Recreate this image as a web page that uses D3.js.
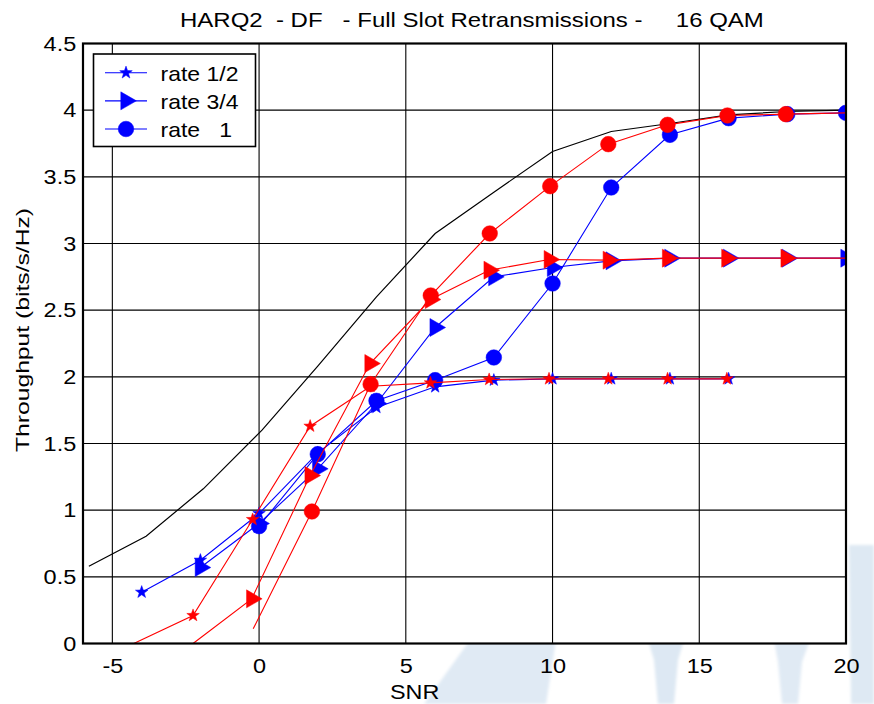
<!DOCTYPE html>
<html>
<head>
<meta charset="utf-8">
<script src="https://cdn.jsdelivr.net/npm/d3@7"></script>
<style>
  html, body { margin: 0; padding: 0; background: #ffffff; }
  svg text { font-family: "Liberation Sans", Arial, Helvetica, sans-serif; white-space: pre; fill: #000; }
</style>
</head>
<body>
<svg id="chart" width="874" height="704"></svg>
<script>
// ---- text ----
const titleText = "HARQ2  - DF   - Full Slot Retransmissions -     16 QAM";
const xLabel = "SNR";
const yLabel = "Throughput (bits/s/Hz)";
const legendLabels = ["rate 1/2", "rate 3/4", "rate   1"];

// ---- axes ----
const xDomain = [-6, 20];
const yDomain = [0, 4.5];
const xTicks = [-5, 0, 5, 10, 15, 20];
const yTicks = [0, 0.5, 1, 1.5, 2, 2.5, 3, 3.5, 4, 4.5];

// ---- capacity bound (black) ----
const boundSNR  = [-5.8, -3.85, -1.9, 0.1, 2, 4, 6, 8, 10, 12, 14, 16, 18, 20];
const boundTput = [0.58, 0.805, 1.16, 1.6, 2.08, 2.6, 3.075, 3.385, 3.69, 3.84, 3.9, 3.965, 3.99, 4.0];

// ---- blue curves ----
const blueHalfSNR   = [-4, -2, 0, 2, 4, 6, 8, 10, 12, 14, 16];
const blueHalfTput  = [0.385, 0.625, 0.975, 1.43, 1.77, 1.925, 1.975, 1.985, 1.985, 1.985, 1.985];
const blueThreeSNR  = [-2, 0, 2, 4, 6, 8, 10, 12, 14, 16, 18, 20];
const blueThreeTput = [0.57, 0.9, 1.31, 1.8, 2.37, 2.75, 2.82, 2.87, 2.89, 2.89, 2.89, 2.89];
const blueOneSNR    = [0, 2, 4, 6, 8, 10, 12, 14, 16, 18, 20];
const blueOneTput   = [0.88, 1.42, 1.82, 1.975, 2.145, 2.7, 3.42, 3.815, 3.94, 3.97, 3.98];

// ---- red curves ----
const redHalfSNR    = [-4.27, -2.25, -0.22, 1.74, 3.8, 5.84, 7.84, 9.88, 11.9, 13.92, 15.94];
const redHalfTput   = [0, 0.21, 0.93, 1.63, 1.93, 1.955, 1.98, 1.985, 1.985, 1.985, 1.985];
const redThreeSNR   = [-2.25, -0.25, 1.74, 3.78, 5.84, 7.84, 9.89, 11.9, 13.92, 15.94, 17.96, 20];
const redThreeTput  = [0, 0.335, 1.26, 2.1, 2.58, 2.8, 2.88, 2.875, 2.89, 2.89, 2.89, 2.89];
const redOneSNR     = [-0.2, 1.8, 3.8, 5.85, 7.86, 9.92, 11.9, 13.92, 15.96, 17.95, 20];
const redOneTput    = [0.11, 0.99, 1.945, 2.61, 3.075, 3.43, 3.745, 3.89, 3.96, 3.97, 3.98];

// points that belong to the line but carry no marker
const redHalfBare  = [0];
const redThreeBare = [0, 11];
const redOneBare   = [0, 10];

const BLUE = "#0000ff", RED = "#ff0000";

const series = [
  { x: blueHalfSNR,  y: blueHalfTput,  color: BLUE, marker: "star",  bare: [] },
  { x: blueThreeSNR, y: blueThreeTput, color: BLUE, marker: "tri",   bare: [] },
  { x: blueOneSNR,   y: blueOneTput,   color: BLUE, marker: "circle", bare: [] },
  { x: redHalfSNR,   y: redHalfTput,   color: RED,  marker: "star",  bare: redHalfBare },
  { x: redThreeSNR,  y: redThreeTput,  color: RED,  marker: "tri",   bare: redThreeBare },
  { x: redOneSNR,    y: redOneTput,    color: RED,  marker: "circle", bare: redOneBare }
];

// ---- layout ----
const W = 874, H = 704;
const plot = { left: 83, right: 846, top: 43.5, bottom: 643.5 };

const svg = d3.select("#chart");

const x = d3.scaleLinear().domain(xDomain).range([plot.left, plot.right]);
const y = d3.scaleLinear().domain(yDomain).range([plot.bottom, plot.top]);

// ---- marker shapes ----
function starPath(R) {
  const r = R * 0.4;
  const pts = [];
  for (let i = 0; i < 10; i++) {
    const a = -Math.PI / 2 + i * Math.PI / 5;
    const rad = i % 2 === 0 ? R : r;
    pts.push([rad * Math.cos(a), rad * Math.sin(a)]);
  }
  return "M" + pts.map(p => p[0].toFixed(2) + "," + p[1].toFixed(2)).join("L") + "Z";
}
function triPath(h) {
  const a = h * 0.866 / 3;
  return `M${-a},${-h / 2}L${2 * a},0L${-a},${h / 2}Z`;
}
const markerPath = {
  star: starPath(6.6),
  tri: triPath(18),
  circle: d3.arc()({ innerRadius: 0, outerRadius: 7.8, startAngle: 0, endAngle: 2 * Math.PI })
};

// ---- faint background print below/right of the axes ----
const defs = svg.append("defs");
defs.append("filter").attr("id", "soft")
  .append("feGaussianBlur").attr("stdDeviation", 1.5);
defs.append("clipPath").attr("id", "plotClip")
  .append("rect")
  .attr("x", plot.left).attr("y", plot.top)
  .attr("width", plot.right - plot.left).attr("height", plot.bottom - plot.top);

const wm = svg.append("g").attr("filter", "url(#soft)");
const wmShapes = [
  { d: "M470,640L556,640L546,704L424,704Z", c: "#e0eaf4" },
  { d: "M648,640L684,640L678,660L674,704L658,704L654,660Z", c: "#dde8f3" },
  { d: "M774,640L810,640L802,662L798,704L782,704L778,662Z", c: "#e0eaf4" },
  { d: "M849,545L874,545L874,704L851,704Z", c: "#dee9f3" }
];
wm.selectAll("path").data(wmShapes).join("path")
  .attr("d", d => d.d).attr("fill", d => d.c);

// plot background
svg.append("rect")
  .attr("x", plot.left).attr("y", plot.top)
  .attr("width", plot.right - plot.left).attr("height", plot.bottom - plot.top)
  .attr("fill", "#ffffff");

// ---- grid ----
const grid = svg.append("g");
grid.selectAll("line.gx").data(xTicks).join("line")
  .attr("x1", d => x(d)).attr("x2", d => x(d))
  .attr("y1", plot.top).attr("y2", plot.bottom)
  .attr("stroke", "#000").attr("stroke-width", 1.1);
grid.selectAll("line.gy").data(yTicks).join("line")
  .attr("x1", plot.left).attr("x2", plot.right)
  .attr("y1", d => y(d)).attr("y2", d => y(d))
  .attr("stroke", "#000").attr("stroke-width", 1.1);

// ---- axes ----
const xAxis = d3.axisBottom(x).tickValues(xTicks).tickFormat(d => String(d))
  .tickSizeInner(0).tickSizeOuter(0).tickPadding(15);
const yAxis = d3.axisLeft(y).tickValues(yTicks).tickFormat(d => String(d))
  .tickSizeInner(0).tickSizeOuter(0).tickPadding(6);

const gx = svg.append("g").attr("transform", `translate(0,${plot.bottom})`).call(xAxis);
const gy = svg.append("g").attr("transform", `translate(${plot.left},0)`).call(yAxis);
[gx, gy].forEach(g => {
  g.select(".domain").remove();
  g.selectAll("text")
    .attr("font-size", 21)
    .attr("font-family", "Liberation Sans, Arial, sans-serif")
    .attr("fill", "#000")
    .attr("transform", "scale(1.12,1)");
});

// ---- data lines ----
const dataLayer = svg.append("g").attr("clip-path", "url(#plotClip)");
const line = d3.line().x(d => x(d[0])).y(d => y(d[1]));

dataLayer.append("path")
  .datum(boundSNR.map((v, i) => [v, boundTput[i]]))
  .attr("d", line).attr("fill", "none")
  .attr("stroke", "#000").attr("stroke-width", 1.2);

series.forEach(s => {
  const pts = s.x.map((v, i) => [v, s.y[i], i]);
  const g = dataLayer.append("g");
  g.append("path").datum(pts).attr("d", line)
    .attr("fill", "none").attr("stroke", s.color).attr("stroke-width", 1.1);
  g.selectAll("path.mk").data(pts.filter(p => !s.bare.includes(p[2]))).join("path")
    .attr("class", "mk")
    .attr("d", markerPath[s.marker])
    .attr("transform", p => `translate(${x(p[0])},${y(p[1])})`)
    .attr("fill", s.color).attr("stroke", s.color).attr("stroke-width", 0.5);
});

// ---- frame ----
svg.append("rect")
  .attr("x", plot.left).attr("y", plot.top)
  .attr("width", plot.right - plot.left).attr("height", plot.bottom - plot.top)
  .attr("fill", "none").attr("stroke", "#000").attr("stroke-width", 2.2);

// ---- legend ----
const leg = svg.append("g");
leg.append("rect")
  .attr("x", 93.5).attr("y", 54).attr("width", 162).attr("height", 92.5)
  .attr("fill", "#fff").attr("stroke", "#000").attr("stroke-width", 1.6);
const legMarkers = ["star", "tri", "circle"];
const legRowY = d3.scalePoint().domain(legendLabels).range([72.7, 129]);
legendLabels.forEach((lab, i) => {
  const yy = legRowY(lab);
  leg.append("line").attr("x1", 105).attr("x2", 147).attr("y1", yy).attr("y2", yy)
    .attr("stroke", BLUE).attr("stroke-width", 1.1);
  leg.append("path").attr("d", markerPath[legMarkers[i]])
    .attr("transform", `translate(126,${yy})`)
    .attr("fill", BLUE).attr("stroke", BLUE).attr("stroke-width", 0.5);
  leg.append("g").attr("transform", `translate(160.5,${yy + 8})`)
    .append("text").attr("font-size", 20).attr("transform", "scale(1.15,1)").text(lab);
});

// ---- titles ----
svg.append("g").attr("transform", "translate(180,26.5)")
  .append("text").attr("font-size", 20).attr("transform", "scale(1.2,1)").text(titleText);

svg.append("g").attr("transform", `translate(${x(5.3)},699)`)
  .append("text").attr("font-size", 20.5).attr("text-anchor", "middle")
  .attr("transform", "scale(1.14,1)").text(xLabel);

svg.append("g").attr("transform", "translate(29,330) rotate(-90)")
  .append("text").attr("font-size", 19).attr("text-anchor", "middle")
  .attr("transform", "scale(1.3,1)").text(yLabel);
</script>
</body>
</html>
